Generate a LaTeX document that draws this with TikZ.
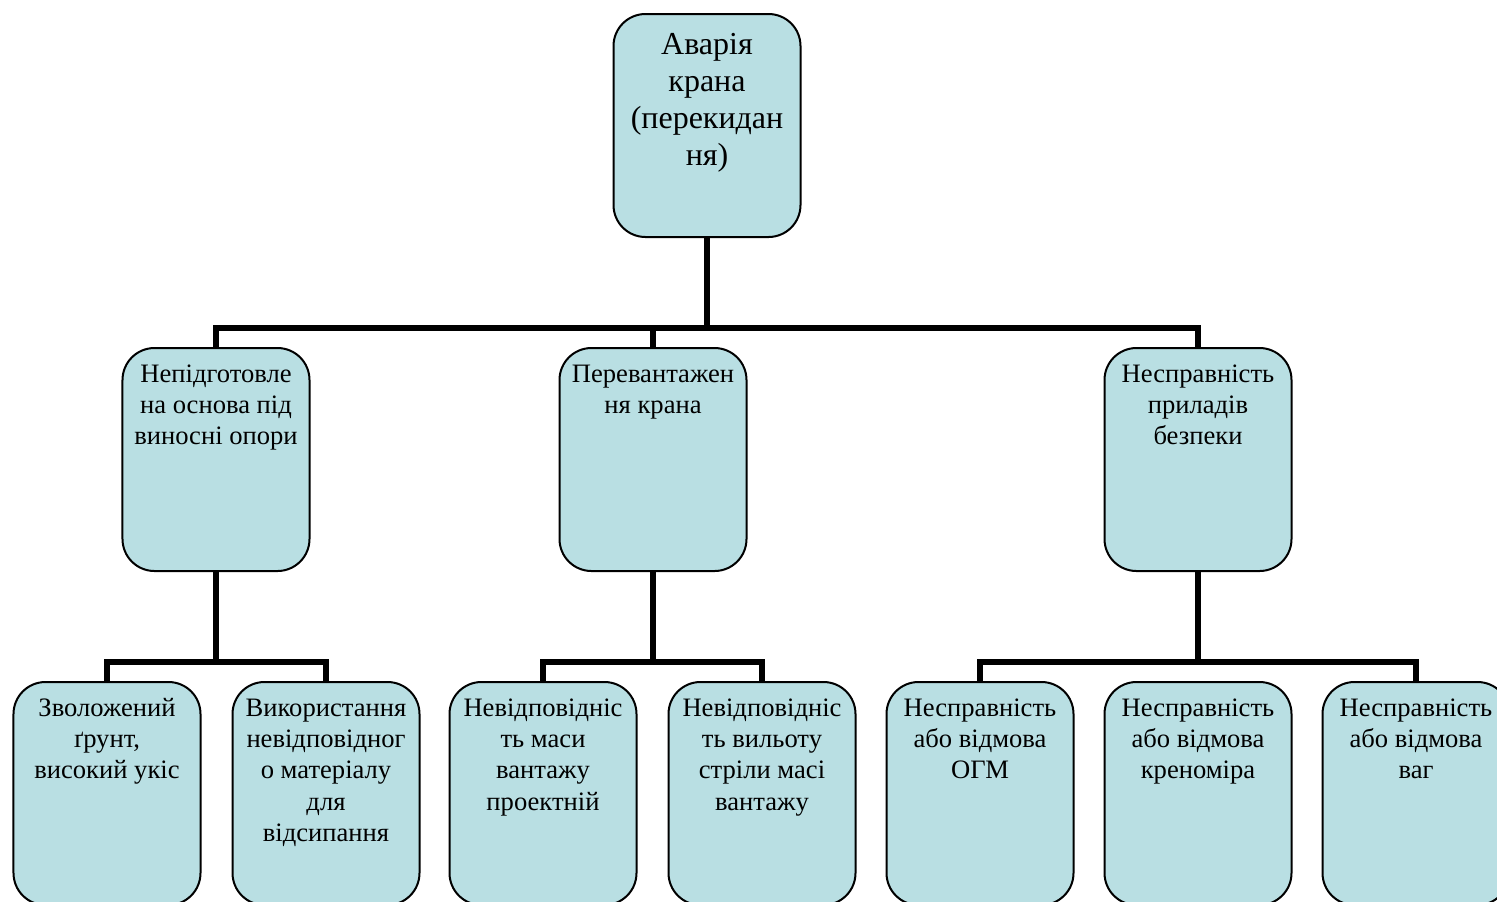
\documentclass[tikz,border=0pt]{standalone}
\usepackage{fontspec}
\setmainfont{Liberation Serif}
\definecolor{boxfill}{HTML}{B9DFE3}
\begin{document}
\begin{tikzpicture}[x=0.5bp,y=-0.5bp,
  box/.style={draw=black, line width=1bp, fill=boxfill, rounded corners=16bp,
    inner sep=0pt, anchor=north, align=center},
  conn/.style={line width=2.6bp, line join=miter, draw=black}]
\useasboundingbox (0,0) rectangle (1497,901);
\clip (0,0) rectangle (1497,901);
% connectors
\coordinate (j0) at (707,328);
\coordinate (j1) at (216,662);
\coordinate (j2) at (653,662);
\coordinate (j3) at (1198,662);
\draw[conn] (707,236) -- (j0);
\draw[conn] (216,347) |- (j0) -| (1198,347);
\draw[conn] (653,347) -- (653,328);
\draw[conn] (216,570) -- (j1);
\draw[conn] (107,681) |- (j1) -| (326,681);
\draw[conn] (653,570) -- (j2);
\draw[conn] (543,681) |- (j2) -| (762,681);
\draw[conn] (1198,570) -- (j3);
\draw[conn] (980,681) |- (j3) -| (1416,681);
% boxes
\node[box] (top) at (707,13) {\parbox[c][111.5bp][t]{93.5bp}{\centering\fontsize{16bp}{18.5bp}\selectfont\vspace*{7.5bp}\strut Аварія\\крана\\(перекидан\\ня)}};
\node[box] (a) at (216,347) {\parbox[c][111.5bp][t]{93.5bp}{\centering\fontsize{13.3bp}{15.6bp}\selectfont\vspace*{6.3bp}\strut Непідготовле\\на основа під\\виносні опори}};
\node[box] (b) at (653,347) {\parbox[c][111.5bp][t]{93.5bp}{\centering\fontsize{13.3bp}{15.6bp}\selectfont\vspace*{6.3bp}\strut Перевантажен\\ня крана}};
\node[box] (c) at (1198,347) {\parbox[c][111.5bp][t]{93.5bp}{\centering\fontsize{13.3bp}{15.6bp}\selectfont\vspace*{6.3bp}\strut Несправність\\приладів\\безпеки}};
\node[box] (a1) at (107,681) {\parbox[c][111.5bp][t]{93.5bp}{\centering\fontsize{13.3bp}{15.6bp}\selectfont\vspace*{6.3bp}\strut Зволожений\\ґрунт,\\високий укіс}};
\node[box] (a2) at (326,681) {\parbox[c][111.5bp][t]{93.5bp}{\centering\fontsize{13.3bp}{15.6bp}\selectfont\vspace*{6.3bp}\strut Використання\\невідповідног\\о матеріалу\\для\\відсипання}};
\node[box] (b1) at (543,681) {\parbox[c][111.5bp][t]{93.5bp}{\centering\fontsize{13.3bp}{15.6bp}\selectfont\vspace*{6.3bp}\strut Невідповідніс\\ть маси\\вантажу\\проектній}};
\node[box] (b2) at (762,681) {\parbox[c][111.5bp][t]{93.5bp}{\centering\fontsize{13.3bp}{15.6bp}\selectfont\vspace*{6.3bp}\strut Невідповідніс\\ть вильоту\\стріли масі\\вантажу}};
\node[box] (c1) at (980,681) {\parbox[c][111.5bp][t]{93.5bp}{\centering\fontsize{13.3bp}{15.6bp}\selectfont\vspace*{6.3bp}\strut Несправність\\або відмова\\ОГМ}};
\node[box] (c2) at (1198,681) {\parbox[c][111.5bp][t]{93.5bp}{\centering\fontsize{13.3bp}{15.6bp}\selectfont\vspace*{6.3bp}\strut Несправність\\або відмова\\креноміра}};
\node[box] (c3) at (1416,681) {\parbox[c][111.5bp][t]{93.5bp}{\centering\fontsize{13.3bp}{15.6bp}\selectfont\vspace*{6.3bp}\strut Несправність\\або відмова\\ваг}};
\end{tikzpicture}
\end{document}
